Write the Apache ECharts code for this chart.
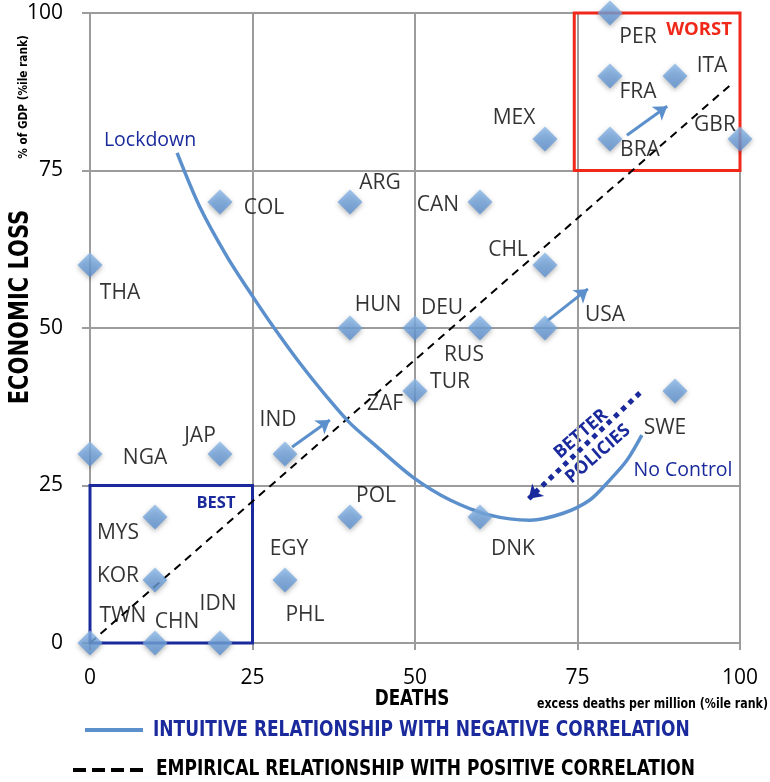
<!DOCTYPE html>
<html>
<head>
<meta charset="utf-8">
<script src="https://cdn.jsdelivr.net/npm/echarts@6/dist/echarts.min.js"></script>
<style>
  html, body { margin: 0; padding: 0; background: #fff; }
  #chart { width: 770px; height: 782px; }
</style>
</head>
<body>
<div id="chart"></div>
<script>
// countries, excess deaths rank (x) and GDP loss rank (y)
const countries = ['PER','FRA','ITA','BRA','GBR','MEX','ARG','COL','CAN','THA','CHL','HUN','DEU','RUS','USA',
  'TUR','ZAF','SWE','NGA','JAP','IND','POL','DNK','MYS','KOR','EGY','PHL','TWN','CHN','IDN'];
const deaths = [80,80,90,80,100,70,40,20,60,0,70,40,50,60,70,50,50,90,0,20,30,40,60,10,10,30,30,0,10,20];
const econLoss = [100,90,90,80,80,80,70,70,70,60,60,50,50,50,50,40,40,40,30,30,30,20,20,20,10,10,10,0,0,0];

// hand-drawn "intuitive" curve (Lockdown -> No Control)
const curveX = [13.4,16.9,21.1,25.1,28.2,32.3,36.5,40.0,44.2,49.7,55.4,61.5,67.7,72.8,76.9,80.0,82.6,84.9];
const curveY = [77.8,69.2,61.3,54.9,50.2,44.4,39.0,34.9,31.1,26.3,22.7,20.3,19.5,20.6,22.7,25.9,29.0,33.0];

// empirical trend line
const trendX = [0, 99];
const trendY = [0, 89];

// small blue arrows
const arrowFrom = [[31.1,31.1],[70.3,51.1],[82.6,80.6]];
const arrowTo = [[36.9,35.4],[76.6,56.2],[88.8,85.2]];

// "better policies" arrow
const policyFrom = [84.6, 39.7];
const policyTo = [67.5, 22.9];

const ticks = [0, 25, 50, 75, 100];

// label offsets (px) relative to each diamond
const labelOffset = {
  PER:[28,24], FRA:[28,16], ITA:[37,-10], BRA:[30,11], GBR:[-25,-14], MEX:[-31,-21],
  ARG:[30,-19], COL:[44,6], CAN:[-42,3], THA:[30,28], CHL:[-37,-15], HUN:[28,-23],
  DEU:[27,-20], RUS:[-16,27], USA:[60,-13], TUR:[35,-9], ZAF:[-30,13], SWE:[-10,37],
  NGA:[55,4], JAP:[-20,-18], IND:[-7,-34], POL:[26,-21], DNK:[33,32], MYS:[-37,16],
  KOR:[-37,-4], EGY:[4,-31], PHL:[20,35], TWN:[33,-27], CHN:[22,-21], IDN:[-2,-39]
};

const darkBlue = '#1a2a9c';
const curveBlue = '#5b90cc';
const gridGrey = '#9c9c9c';
const txtFont = '"Open Sans", Lato, sans-serif';
const narrowFont = '"DejaVu Sans Condensed", "DejaVu Sans", sans-serif';

let seen = {};
let points = countries.map(function (c, i) {
  let key = deaths[i] + '_' + econLoss[i];
  let dup = seen[key];
  seen[key] = true;
  return {
    name: c,
    value: [deaths[i], econLoss[i]],
    symbolSize: dup ? 0 : 25,
    label: { offset: labelOffset[c] }
  };
});

function txt(x, y, text, size, color, opts) {
  let o = opts || {};
  return {
    type: 'text', x: x, y: y, rotation: o.rotation || 0, scaleX: o.scaleX || 1,
    style: {
      text: text, fontFamily: o.font || txtFont, fontWeight: o.bold ? 'bold' : 'normal',
      fontSize: size, fill: color, align: o.align || 'center', verticalAlign: 'middle'
    }
  };
}

let chart = echarts.init(document.getElementById('chart'));
chart.setOption({
  animation: false,
  backgroundColor: '#fff',
  grid: { left: 90, right: 30, top: 13, bottom: 139 },
  xAxis: {
    type: 'value', min: 0, max: 100, interval: 25,
    axisLine: { show: true, lineStyle: { color: gridGrey, width: 2 } },
    axisTick: { show: true, length: 7, lineStyle: { color: gridGrey, width: 2 } },
    splitLine: { show: true, lineStyle: { color: gridGrey, width: 2 } },
    axisLabel: { margin: 25, fontFamily: txtFont, fontSize: 21, color: '#000',
      formatter: function (v) { return ticks.indexOf(v) >= 0 ? v : ''; } }
  },
  yAxis: {
    type: 'value', min: 0, max: 100, interval: 25,
    axisLine: { show: true, lineStyle: { color: gridGrey, width: 2 } },
    axisTick: { show: true, length: 8, lineStyle: { color: gridGrey, width: 2 } },
    splitLine: { show: true, lineStyle: { color: gridGrey, width: 2 } },
    axisLabel: { margin: 27, fontFamily: txtFont, fontSize: 21, color: '#000' }
  },
  series: [
    {
      name: 'boxes', type: 'line', data: [], silent: true,
      markArea: {
        silent: true,
        data: [
          [{ coord: [74.5, 75], itemStyle: { color: 'rgba(0,0,0,0)', borderColor: '#f0281a', borderWidth: 3 } },
           { coord: [100, 100] }],
          [{ coord: [0, 0], itemStyle: { color: 'rgba(0,0,0,0)', borderColor: darkBlue, borderWidth: 3 } },
           { coord: [25, 25] }]
        ]
      }
    },
    {
      name: 'EMPIRICAL', type: 'line', silent: true, symbol: 'none',
      data: trendX.map(function (x, i) { return [x, trendY[i]]; }),
      lineStyle: { color: '#000', width: 2, type: [8, 6] },
      z: 3
    },
    {
      name: 'INTUITIVE', type: 'line', silent: true, symbol: 'none', smooth: 0.3,
      data: curveX.map(function (x, i) { return [x, curveY[i]]; }),
      lineStyle: { color: curveBlue, width: 3.5 },
      z: 3
    },
    {
      name: 'arrows', type: 'line', data: [], silent: true,
      markLine: {
        silent: true, symbol: ['none', 'arrow'], symbolSize: 13,
        label: { show: false },
        lineStyle: { color: curveBlue, width: 3, type: 'solid' },
        data: arrowFrom.map(function (p, i) { return [{ coord: p }, { coord: arrowTo[i] }]; })
          .concat([[
            { coord: policyFrom, lineStyle: { color: darkBlue, width: 5, type: [5, 5] }, symbolSize: 19 },
            { coord: policyTo }
          ]])
      },
      z: 4
    },
    {
      name: 'countries', type: 'scatter', symbol: 'diamond',
      data: points,
      itemStyle: {
        color: new echarts.graphic.LinearGradient(0, 0, 0, 1, [
          { offset: 0, color: '#8bbaea' }, { offset: 1, color: '#5b8fd0' }
        ]),
        shadowBlur: 5, shadowColor: 'rgba(0,0,0,0.35)', shadowOffsetY: 2
      },
      label: {
        show: true, position: 'inside',
        formatter: function (p) { return p.name; },
        fontFamily: txtFont, fontSize: 21, color: '#000',
        textBorderWidth: 0, textBorderColor: 'transparent'
      },
      z: 5
    }
  ],
  graphic: [
    // axis titles
    txt(21, 307, 'ECONOMIC LOSS', 26, '#000', { rotation: Math.PI / 2, bold: true, font: narrowFont, scaleX: 0.9 }),
    txt(24, 97, '% of GDP (%ile rank)', 13, '#000', { rotation: Math.PI / 2, bold: true, font: narrowFont, scaleX: 0.9 }),
    txt(412, 700, 'DEATHS', 21, '#000', { bold: true, font: narrowFont, scaleX: 0.89 }),
    txt(768, 704, 'excess deaths per million (%ile rank)', 13.5, '#000', { bold: true, font: narrowFont, scaleX: 0.91, align: 'right' }),
    // annotations
    txt(150, 140, 'Lockdown', 19.5, darkBlue),
    txt(683, 470, 'No Control', 19.5, darkBlue),
    txt(699, 30, 'WORST', 18.5, '#f0281a', { bold: true }),
    txt(216, 503, 'BEST', 16.5, darkBlue, { bold: true }),
    txt(581, 434, 'BETTER', 18, darkBlue, { bold: true, rotation: 0.72 }),
    txt(598, 454, 'POLICIES', 18, darkBlue, { bold: true, rotation: 0.72 }),
    // legend
    { type: 'line', shape: { x1: 85, y1: 730, x2: 143, y2: 730 }, style: { stroke: curveBlue, lineWidth: 4 } },
    txt(153, 731, 'INTUITIVE RELATIONSHIP WITH NEGATIVE CORRELATION', 21, darkBlue,
      { bold: true, font: narrowFont, scaleX: 0.9, align: 'left' }),
    { type: 'line', shape: { x1: 73, y1: 770, x2: 143, y2: 770 }, style: { stroke: '#000', lineWidth: 4, lineDash: [13, 6] } },
    txt(156, 770, 'EMPIRICAL RELATIONSHIP WITH POSITIVE CORRELATION', 21, '#000',
      { bold: true, font: narrowFont, scaleX: 0.9, align: 'left' })
  ]
});
</script>
</body>
</html>
